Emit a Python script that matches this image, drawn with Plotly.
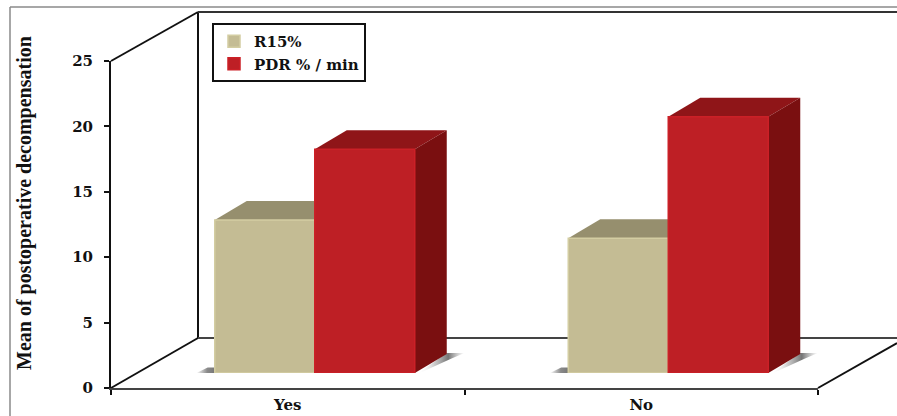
import plotly.graph_objects as go

W, H = 897, 416

categories = ["Yes", "No"]
cat_pos = [0, 1]
r15_values = [11.7, 10.3]
pdr_values = [17.1, 19.6]
y_ticks = [0, 5, 10, 15, 20, 25]

# Pixel layout of the pseudo-3D box
AX_L, AX_R, AX_B, AX_T = 111, 818, 388, 61
WALL_DX, WALL_DY = 87, 50
BAR_SHIFT_X, BAR_SHIFT_Y = 27, 15
BAR_W_PX, DEPTH_X_PX, DEPTH_Y_PX = 100, 32, 19

UNIT_X = (AX_R - AX_L) / 2
UNIT_Y = (AX_B - AX_T) / 25
bar_w = BAR_W_PX / UNIT_X
depth_x = DEPTH_X_PX / UNIT_X
depth_y = DEPTH_Y_PX / UNIT_Y

SERIES = [
    dict(name="R15%", values=r15_values, offset=-bar_w, front="#C4BC94", edge="#D3CDA2", top="#968F6E", side="#7D7759"),
    dict(name="PDR % / min", values=pdr_values, offset=0.0, front="#BE1F25", edge="#CB2027", top="#8F1518", side="#7A0F10"),
]

def px(x):
    return x / W

def py(y):
    return 1 - y / H

fig = go.Figure()

SHADOW_L = [[0, "rgba(120,120,120,0)"], [0.55, "rgba(125,125,125,0.9)"], [1, "rgba(115,115,115,1)"]]
SHADOW_R = [[0, "rgba(255,255,255,0)"], [0.35, "rgba(190,190,190,0.8)"], [0.65, "rgba(110,110,110,0.95)"], [1, "rgba(150,150,150,0)"]]

def polygon(xs, ys, color):
    fig.add_trace(go.Scatter(
        x=xs + xs[:1], y=ys + ys[:1], xaxis="x2", yaxis="y2", mode="lines",
        line=dict(width=0), fill="toself", fillcolor=color,
        hoverinfo="skip", showlegend=False,
    ))

# Soft floor shadows on both sides of every bar pair
for x in cat_pos:
    left, right = x - bar_w, x + bar_w
    fig.add_trace(go.Scatter(
        x=[left - 0.052, left + 0.004, left + 0.004, left - 0.02, left - 0.052],
        y=[0, 0, 0.42, 0.42, 0], xaxis="x2", yaxis="y2", mode="lines", line=dict(width=0),
        fill="toself", fillgradient=dict(type="horizontal", colorscale=SHADOW_L),
        hoverinfo="skip", showlegend=False,
    ))
    fig.add_trace(go.Scatter(
        x=[right + 0.01, right + depth_x, right + depth_x + 0.05, right + depth_x + 0.012, right + 0.01],
        y=[0, depth_y * 1.05, depth_y * 1.05, depth_y * 0.75, -0.05],
        xaxis="x2", yaxis="y2", mode="lines", line=dict(width=0),
        fill="toself", fillgradient=dict(type="horizontal", colorscale=SHADOW_R),
        hoverinfo="skip", showlegend=False,
    ))

# Top and side faces of the bars, offset from each bar's front rectangle
for s in SERIES:
    for x, v in zip(cat_pos, s["values"]):
        l = x + s["offset"]
        r = l + bar_w
        polygon([l, r, r + depth_x, l + depth_x], [v, v, v + depth_y, v + depth_y], s["top"])
        polygon([r, r + depth_x, r + depth_x, r], [0, depth_y, v + depth_y, v], s["side"])

# Front faces of the bars
for s in SERIES:
    fig.add_trace(go.Bar(
        x=cat_pos, y=s["values"], name=s["name"], width=bar_w, offset=s["offset"],
        xaxis="x3", yaxis="y3",
        marker=dict(color=s["front"], line=dict(color=s["edge"], width=1.5)),
    ))

# Invisible trace that keeps the visible front axes alive
fig.add_trace(go.Scatter(x=cat_pos, y=[0, 0], mode="markers", marker=dict(opacity=0),
                         hoverinfo="skip", showlegend=False))

LINE = dict(color="#111111", width=2)
FRAME = dict(color="#8A8A8A", width=1.5)
box_lines = [
    (AX_L, AX_B, AX_L + WALL_DX, AX_B - WALL_DY, LINE),
    (AX_L, AX_T, AX_L + WALL_DX, AX_T - WALL_DY + 1, LINE),
    (AX_L + WALL_DX, AX_T - WALL_DY + 1, AX_L + WALL_DX, AX_B - WALL_DY, LINE),
    (AX_L + WALL_DX, AX_T - WALL_DY + 1, W, AX_T - WALL_DY + 1, dict(color="#333333", width=2)),
    (AX_L + WALL_DX, AX_B - WALL_DY, W, AX_B - WALL_DY, dict(color="#444444", width=2)),
    (AX_R, AX_B, W, AX_B - 45, LINE),
    (10, 7, W, 7, FRAME),
    (10, 7, 10, H, FRAME),
]
shapes = [
    dict(type="line", xref="paper", yref="paper", layer="below",
         x0=px(a), y0=py(b), x1=px(c), y1=py(d), line=ln)
    for a, b, c, d, ln in box_lines
]

Y_TICK_FONT = dict(family="DejaVu Serif", size=15, color="#111111", weight="bold")
X_TICK_FONT = dict(family="DejaVu Serif", size=15, color="#111111", weight="bold")
hidden = dict(visible=False, fixedrange=True)

fig.update_layout(
    width=W, height=H, autosize=False,
    margin=dict(l=0, r=0, t=0, b=0, autoexpand=False),
    paper_bgcolor="white", plot_bgcolor="rgba(0,0,0,0)",
    barmode="overlay", shapes=shapes,
    xaxis=dict(
        domain=[px(AX_L), px(AX_R)], range=[-0.5, 1.5], tickmode="array",
        tickvals=cat_pos, ticktext=categories, ticks="", tickfont=X_TICK_FONT,
        ticklabelstandoff=2,
        showgrid=False, zeroline=False, showline=True, linecolor="#444444", linewidth=2,
        minor=dict(tickmode="array", tickvals=[-0.5, 0.5, 1.5], ticks="outside",
                   ticklen=5, tickwidth=2, tickcolor="#111111", showgrid=False),
        anchor="y", fixedrange=True,
    ),
    yaxis=dict(
        domain=[py(AX_B), py(AX_T)], range=[0, 25], tickmode="array", tickvals=y_ticks,
        ticks="outside", ticklen=5, tickwidth=2, tickcolor="#111111", tickfont=Y_TICK_FONT,
        ticklabelstandoff=8, showgrid=False, zeroline=False,
        showline=True, linecolor="#111111", linewidth=2, anchor="x", fixedrange=True,
    ),
    xaxis2=dict(domain=[px(AX_L + BAR_SHIFT_X), px(AX_R + BAR_SHIFT_X)], range=[-0.5, 1.5], anchor="y2", **hidden),
    yaxis2=dict(domain=[py(AX_B - BAR_SHIFT_Y), py(AX_T - BAR_SHIFT_Y)], range=[0, 25], anchor="x2", **hidden),
    xaxis3=dict(overlaying="x2", range=[-0.5, 1.5], anchor="y3", **hidden),
    yaxis3=dict(overlaying="y2", range=[0, 25], anchor="x3", **hidden),
    legend=dict(
        x=px(212), y=py(23), xanchor="left", yanchor="top",
        bgcolor="white", bordercolor="#111111", borderwidth=2,
        font=dict(family="DejaVu Serif", size=15, color="#111111", weight="bold"),
        itemclick=False, itemdoubleclick=False,
    ),
    annotations=[dict(
        text="<b>Mean of postoperative decompensation</b>", textangle=-90,
        xref="paper", yref="paper", x=px(25), y=py(203), xanchor="center", yanchor="middle",
        showarrow=False,
        font=dict(family="Liberation Serif", size=20, color="#111111"),
    )],
    showlegend=True,
)

fig.write_html("out.html", config=dict(displayModeBar=False))
